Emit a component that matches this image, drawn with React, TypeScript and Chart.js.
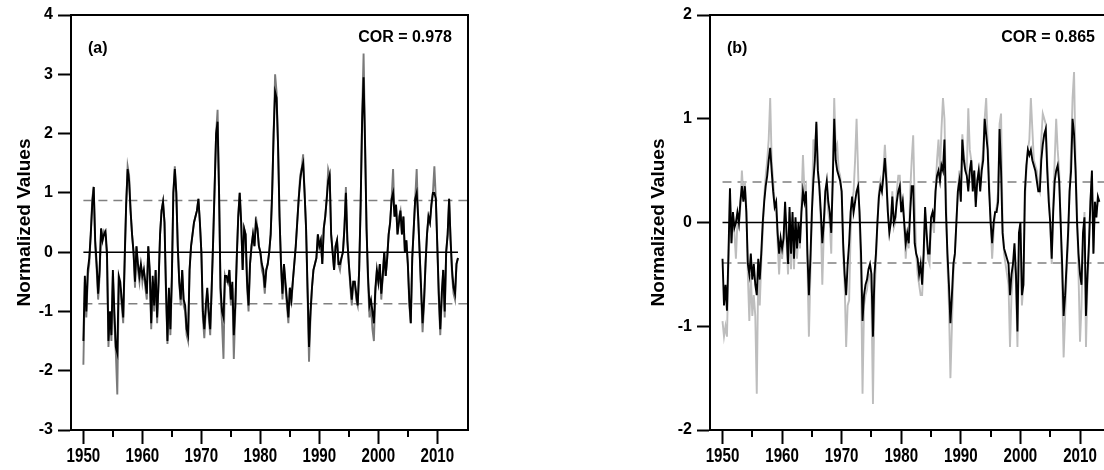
import React, { useEffect, useRef } from "react";
import { Chart, registerables } from "chart.js";

Chart.register(...registerables);

const FONT = '"Liberation Sans", Arial, Helvetica, sans-serif';

// ---- shared time axis ----
const startYear = 1950;
const stepYears = 0.25; // quarterly samples
const xMin = 1947.9;
const xMax = 2015.2;
const xTickYears = [1950, 1955, 1960, 1965, 1970, 1975, 1980, 1985, 1990, 1995, 2000, 2005, 2010];
const xLabelYears = [1950, 1960, 1970, 1980, 1990, 2000, 2010];

// ---- panel (a) ----
const aBlack = [
  -1.5, -0.4, -1.0, -0.3,
  -0.1, 0.3, 0.8, 1.1,
  0.2, -0.2, -0.7, -0.3,
  0.4, 0.2, 0.3, 0.35,
  0.0, -1.5, -1.0, -1.4,
  -0.3, -1.0, -1.6, -1.7,
  -0.4, -0.5, -0.8, -1.1,
  -0.1, 0.8, 1.4, 1.2,
  0.7, 0.3, 0.0, -0.5,
  0.1, -0.2, -0.4, -0.2,
  -0.4, -0.3, -0.5, -0.7,
  0.1, -0.3, -1.2, -0.4,
  -0.9, -0.3, -1.1, -0.5,
  0.3, 0.7, 0.85, 0.5,
  -0.6, -1.5, -0.6, -1.3,
  -0.4, 1.0, 1.4, 1.0,
  0.1, -0.5, -0.8, -0.3,
  -0.8, -0.9, -1.3, -1.4,
  -0.3, 0.1, 0.3, 0.5,
  0.6, 0.7, 0.9, 0.5,
  0.0, -1.0, -1.3, -0.9,
  -0.6, -1.0, -1.3, -0.6,
  0.2, 1.1, 2.0, 2.2,
  1.0, -0.6, -1.0, -1.1,
  -0.4, -0.4, -0.5, -0.3,
  -0.8, -0.5, -1.4, -0.9,
  -0.1, 0.6, 1.0, 0.5,
  -0.3, 0.4, 0.3, -0.5,
  -0.9, -0.2, 0.1, 0.3,
  0.1, 0.5, 0.4, 0.1,
  0.0, -0.2, -0.3, -0.6,
  -0.3, -0.2, 0.0, 0.3,
  1.0, 2.0, 2.7, 2.6,
  1.8, 0.6, -0.2, -0.7,
  -0.2, -0.5, -0.8, -1.1,
  -0.6, -0.8, -0.5, -0.2,
  0.1, 0.5, 0.9, 1.2,
  1.4, 1.5, 1.0, 0.4,
  -0.6, -1.6, -1.0, -0.6,
  -0.3, -0.2, -0.1, 0.3,
  0.1, 0.2, -0.2, 0.4,
  0.6, 0.9, 1.2, 1.3,
  0.3, 0.0, -0.3, 0.1,
  0.2, -0.2, -0.2, -0.1,
  0.0, 0.4, 1.0, 0.2,
  -0.2, -0.5, -0.8, -0.5,
  -0.5, -0.7, -0.9, -0.3,
  0.8, 2.2, 2.95, 1.8,
  0.4, -0.4, -0.9, -0.8,
  -1.0, -1.2, -0.6, -0.3,
  -0.5, -0.2, -0.7, -0.4,
  0.0, -0.4, -0.1, 0.3,
  0.5, 0.9, 1.0, 0.6,
  0.8, 0.3, 0.5, 0.7,
  0.3, 0.6, 0.0, 0.2,
  -0.2, -0.8, -1.2, -0.1,
  0.4, 0.9, 1.0, 0.6,
  0.0, -0.6, -1.2, -0.8,
  -0.2, 0.3, 0.6, 0.5,
  0.8, 1.0, 1.0, 0.9,
  0.1, -0.7, -1.3, -0.7,
  -0.3, -1.0, 0.0, 0.3,
  0.9, 0.2, -0.3, -0.6,
  -0.7, -0.2, -0.1,
];

const aGray = [
  -1.9, -0.5, -1.1, -0.4,
  -0.2, 0.3, 0.9, 1.1,
  0.1, -0.3, -0.8, -0.4,
  0.4, 0.2, 0.35, 0.3,
  -0.1, -1.6, -1.0, -1.5,
  -0.4, -1.2, -1.7, -2.4,
  -0.5, -0.6, -0.9, -1.2,
  -0.2, 0.8, 1.45, 1.3,
  0.7, 0.3, 0.0, -0.6,
  0.1, -0.3, -0.5, -0.2,
  -0.5, -0.3, -0.6, -0.8,
  0.1, -0.4, -1.3, -0.5,
  -1.0, -0.3, -1.2, -0.5,
  0.3, 0.7, 0.85, 0.5,
  -0.7, -1.55, -0.7, -1.4,
  -0.5, 1.0, 1.45, 1.0,
  0.1, -0.5, -0.9, -0.3,
  -0.9, -1.0, -1.4, -1.5,
  -0.3, 0.1, 0.3, 0.5,
  0.6, 0.7, 0.9, 0.5,
  0.0, -1.1, -1.45, -1.0,
  -0.7, -1.1, -1.4, -0.6,
  0.2, 1.1, 2.0, 2.4,
  1.0, -0.7, -1.2, -1.8,
  -0.4, -0.5, -0.5, -0.3,
  -0.9, -0.6, -1.8, -1.0,
  -0.1, 0.6, 1.0, 0.5,
  -0.3, 0.4, 0.3, -0.6,
  -1.0, -0.2, 0.1, 0.3,
  0.1, 0.6, 0.4, 0.1,
  0.0, -0.3, -0.4, -0.7,
  -0.3, -0.2, 0.0, 0.3,
  1.0, 2.0, 3.0, 2.7,
  1.8, 0.6, -0.2, -0.8,
  -0.2, -0.6, -0.9, -1.2,
  -0.6, -0.9, -0.5, -0.2,
  0.1, 0.5, 0.9, 1.3,
  1.4, 1.65, 1.0, 0.4,
  -0.7, -1.85, -1.1, -0.6,
  -0.3, -0.2, -0.1, 0.3,
  0.1, 0.2, -0.2, 0.4,
  0.6, 0.9, 1.4, 1.3,
  0.3, 0.0, -0.3, 0.1,
  0.2, -0.2, -0.3, -0.1,
  0.0, 0.4, 1.1, 0.2,
  -0.2, -0.6, -0.9, -0.5,
  -0.5, -0.8, -0.9, -0.3,
  0.8, 2.3, 3.35, 1.9,
  0.4, -0.5, -1.1, -0.9,
  -1.3, -1.5, -0.7, -0.3,
  -0.5, -0.2, -0.8, -0.4,
  0.0, -0.4, -0.1, 0.3,
  0.5, 0.9, 1.4, 0.6,
  0.8, 0.3, 0.6, 0.7,
  0.3, 0.6, 0.0, 0.2,
  -0.2, -0.9, -1.2, -0.1,
  0.4, 0.9, 1.4, 0.6,
  0.0, -0.7, -1.35, -0.9,
  -0.2, 0.3, 0.6, 0.5,
  0.8, 1.0, 1.45, 0.9,
  0.1, -0.8, -1.4, -0.8,
  -0.3, -1.1, 0.0, 0.3,
  0.9, 0.2, -0.4, -0.7,
  -0.8, -0.2, -0.1,
];

const aYTicks = [-3, -2, -1, 0, 1, 2, 3, 4];
const aThreshold = 0.87;
const aLabel = "(a)";
const aCor = "COR = 0.978";

// ---- panel (b) ----
const bBlack = [
  -0.35, -0.8, -0.6, -0.85,
  -0.3, 0.33, -0.2, 0.1,
  -0.05, 0.0, 0.1, 0.0,
  0.2, 0.35, 0.2, 0.35,
  0.1, -0.4, -0.5, -0.3,
  -0.55, -0.4, -0.6, -0.7,
  -0.35, -0.55, -0.3, 0.0,
  0.2, 0.35, 0.45, 0.6,
  0.72, 0.5, 0.3, 0.15,
  0.2, -0.1, -0.3, -0.15,
  -0.25, -0.15, 0.2, -0.1,
  -0.4, 0.15, -0.3, 0.1,
  -0.35, 0.05, -0.25, 0.0,
  -0.2, 0.1, 0.3, 0.2,
  0.3, -0.3, -0.7, -0.35,
  0.1, 0.4, 0.6, 0.97,
  0.5, 0.35, 0.1, -0.2,
  0.0, 0.3, 0.4, 0.2,
  0.1, -0.1, 0.4, 1.0,
  0.6, 0.5, 0.45, 0.4,
  0.3, -0.2, -0.5, -0.7,
  -0.4, -0.2, 0.1, 0.25,
  0.1, 0.2, 0.3, 0.35,
  0.1, -0.3, -0.95, -0.7,
  -0.6, -0.55, -0.45, -0.4,
  -0.5, -1.1, -0.5, -0.3,
  0.0, 0.25, 0.35, 0.3,
  0.45, 0.62, 0.4, 0.1,
  -0.1, 0.0, 0.25, 0.0,
  0.05, 0.2, 0.3, 0.35,
  0.1, 0.2, 0.0, -0.2,
  -0.1, -0.2, 0.1, 0.35,
  0.35, -0.2, -0.3, -0.35,
  -0.5, -0.4, -0.6, -0.3,
  0.15, -0.1, -0.3, -0.3,
  0.05, 0.1, 0.0, 0.3,
  0.45, 0.5, 0.4, 0.55,
  0.5, 0.8, 0.1, -0.3,
  -0.6, -0.97, -0.7, -0.4,
  -0.3, 0.0, 0.3, 0.4,
  0.2, 0.8, 0.6, 0.5,
  0.45, 0.3, 0.5, 0.6,
  0.3, 0.5, 0.15, 0.4,
  0.5, 0.3, 0.5, 0.6,
  1.0, 0.85, 0.7, 0.3,
  0.0, -0.2, 0.0, 0.1,
  0.1, 0.2, 0.9, 0.5,
  -0.1, -0.25, -0.3, -0.35,
  -0.4, -0.7, -0.5, -0.4,
  -0.2, -0.5, -1.05, -0.1,
  0.0, -0.7, -0.6, 0.3,
  0.55, 0.7, 0.65, 0.7,
  0.6, 0.55, 0.5, 0.4,
  0.3, 0.3, 0.6, 0.75,
  0.85, 0.9, 0.5, 0.2,
  0.0, -0.35, 0.1, 0.4,
  0.5, 0.55, 0.4, 0.0,
  -0.4, -0.9, -0.7, -0.4,
  -0.1, 0.3, 0.5, 1.0,
  0.85, 0.5, 0.0, -0.3,
  -0.5, -0.6, -0.1, 0.05,
  -0.9, -0.5, -0.2, 0.2,
  0.5, -0.3, 0.2, 0.05,
  0.25, 0.2,
];

const bGray = [
  -0.95, -1.1, -1.0, -1.1,
  -0.4, 0.25, -0.2, 0.05,
  -0.1, -0.35, 0.0, -0.05,
  0.15, 0.5, 0.25, 0.4,
  0.15, -0.5, -0.95, -0.5,
  -0.9, -0.7, -0.9, -1.65,
  -0.45, -0.8, -0.4, -0.1,
  0.25, 0.45, 0.6, 0.8,
  1.2, 0.6, 0.4, 0.2,
  0.15, -0.2, -0.5, -0.2,
  -0.35, -0.2, 0.1, -0.2,
  -0.5, 0.1, -0.45, 0.05,
  -0.45, 0.0, -0.35, -0.1,
  -0.25, 0.2, 0.65, 0.3,
  0.35, -0.4, -1.1, -0.5,
  0.1, 0.8, 0.7, 0.95,
  0.55, 0.3, 0.0, -0.6,
  -0.1, 0.2, 0.35, 0.1,
  0.0, -0.3, 0.5, 1.2,
  0.7, 0.75, 0.5, 0.45,
  0.25, -0.3, -0.6, -1.2,
  -0.8, -0.75, -0.1, 0.2,
  0.3, 0.6, 1.0, 0.5,
  0.0, -0.5, -1.65, -0.8,
  -0.7, -0.65, -0.5, -0.5,
  -0.7, -1.75, -0.7, -0.4,
  0.0, 0.3, 0.4, 0.3,
  0.5, 0.75, 0.5, 0.1,
  -0.05, 0.0, 0.3, -0.05,
  0.0, 0.3, 0.45, 0.45,
  0.1, 0.25, -0.05, -0.35,
  -0.1, -0.25, 0.3, 0.6,
  0.84, 0.2, -0.3, -0.5,
  -0.6, -0.7, -0.7, -0.4,
  0.1, -0.15, -0.35, -0.4,
  0.0, 0.0, -0.1, 0.3,
  0.6, 0.8, 0.5, 0.9,
  1.2, 1.0, 0.3, -0.4,
  -0.8, -1.5, -1.0, -0.5,
  -0.3, 0.0, 0.3, 0.5,
  0.3, 0.85, 0.65, 0.55,
  0.5, 1.1, 0.7, 0.6,
  0.4, 0.5, 0.2, 0.4,
  0.5, 0.35, 0.55, 0.7,
  1.0, 1.2, 0.8, 0.4,
  0.0, -0.35, -0.1, 0.1,
  0.15, 0.3, 0.95, 1.05,
  0.0, -0.3, -0.4, -0.5,
  -0.6, -1.2, -0.7, -0.5,
  -0.3, -0.6, -1.2, -0.2,
  -0.1, -0.8, -0.6, 0.2,
  0.5, 0.7, 0.8, 1.2,
  0.9, 0.6, 0.55, 0.5,
  0.35, 0.3, 0.8, 1.05,
  1.0, 0.95, 0.6, 0.3,
  0.0, -0.4, 0.2, 0.6,
  1.0, 0.7, 0.5, 0.0,
  -0.6, -1.3, -0.9, -0.5,
  -0.2, 0.3, 0.7, 1.2,
  1.45, 0.6, 0.1, -0.5,
  -1.15, -0.8, -0.2, 0.1,
  -1.2, -0.6, -0.3, 0.2,
  0.45, -0.3, 0.2, 0.1,
  0.2, 0.2,
];

const bYTicks = [-2, -1, 0, 1, 2];
const bThreshold = 0.39;
const bLabel = "(b)";
const bCor = "COR = 0.865";

const yTitle = "Normalized Values";

type PanelSpec = {
  black: number[];
  gray: number[];
  grayColor: string;
  yTicks: number[];
  threshold: number;
  label: string;
  cor: string;
  canvasWidth: number;
  yAxisWidth: number;
  rightPad: number;
  titleOffset: number;
};

function toPoints(vals: number[]) {
  return vals.map((v, i) => ({ x: startYear + i * stepYears, y: v }));
}

function makeChart(canvas: HTMLCanvasElement, p: PanelSpec) {
  const lastX = startYear + (p.black.length - 1) * stepYears;
  const decorations = {
    id: "decorations",
    afterDraw(chart: any) {
      const { ctx, chartArea } = chart;
      const xs = chart.scales.x;
      const { left, right, top, bottom } = chartArea;
      ctx.save();
      // top & right frame
      ctx.strokeStyle = "#000";
      ctx.lineWidth = 2;
      ctx.beginPath();
      ctx.moveTo(left, top);
      ctx.lineTo(right, top);
      ctx.lineTo(right, bottom);
      ctx.stroke();
      // minor x ticks
      ctx.beginPath();
      xTickYears.forEach((yr) => {
        if (yr % 10 !== 0) {
          const px = Math.round(xs.getPixelForValue(yr));
          ctx.moveTo(px, bottom);
          ctx.lineTo(px, bottom + 7);
        }
      });
      ctx.stroke();
      // x labels (tall, narrow)
      ctx.fillStyle = "#000";
      ctx.textAlign = "center";
      ctx.textBaseline = "middle";
      xLabelYears.forEach((yr) => {
        const px = xs.getPixelForValue(yr);
        ctx.save();
        ctx.translate(px, bottom + 26);
        ctx.scale(0.72, 1);
        ctx.font = `bold 21px ${FONT}`;
        ctx.fillText(String(yr), 0, 0);
        ctx.restore();
      });
      // y title
      ctx.save();
      ctx.translate(left - p.titleOffset, (top + bottom) / 2);
      ctx.rotate(-Math.PI / 2);
      ctx.font = `bold 19px ${FONT}`;
      ctx.textAlign = "center";
      ctx.textBaseline = "middle";
      ctx.fillText(yTitle, 0, 0);
      ctx.restore();
      // panel label
      ctx.font = `bold 16px ${FONT}`;
      ctx.textAlign = "left";
      ctx.textBaseline = "middle";
      ctx.fillText(p.label, left + 17, top + 34);
      // correlation
      ctx.textAlign = "right";
      ctx.fillText(p.cor, right - 16, top + 23);
      ctx.restore();
    },
  };

  return new Chart(canvas, {
    type: "line",
    data: {
      datasets: [
        {
          data: [{ x: startYear, y: 0 }, { x: lastX, y: 0 }],
          borderColor: "#000",
          borderWidth: 1.5,
          pointRadius: 0,
          order: 0,
        },
        {
          data: toPoints(p.black),
          borderColor: "#000",
          borderWidth: 1.9,
          pointRadius: 0,
          tension: 0,
          order: 1,
        },
        {
          data: toPoints(p.gray),
          borderColor: p.grayColor,
          borderWidth: 1.9,
          pointRadius: 0,
          tension: 0,
          order: 2,
        },
        {
          data: [{ x: startYear, y: p.threshold }, { x: xMax, y: p.threshold }],
          borderColor: "#808080",
          borderWidth: 1.5,
          borderDash: [9, 6],
          pointRadius: 0,
          order: 3,
        },
        {
          data: [{ x: startYear, y: -p.threshold }, { x: xMax, y: -p.threshold }],
          borderColor: "#808080",
          borderWidth: 1.5,
          borderDash: [9, 6],
          pointRadius: 0,
          order: 3,
        },
      ],
    },
    options: {
      animation: false,
      responsive: false,
      devicePixelRatio: 1,
      layout: { padding: { left: 0, right: p.rightPad, top: 15, bottom: 0 } },
      plugins: { legend: { display: false }, tooltip: { enabled: false }, title: { display: false } },
      scales: {
        x: {
          type: "linear",
          min: xMin,
          max: xMax,
          afterBuildTicks: (s: any) => {
            s.ticks = xTickYears.map((v) => ({ value: v }));
          },
          afterFit: (s: any) => {
            s.height = 40;
          },
          ticks: { display: false },
          grid: {
            drawOnChartArea: false,
            drawTicks: true,
            tickLength: 14,
            tickWidth: 2,
            tickColor: (c: any) =>
              c.tick && Math.abs(c.tick.value % 10) < 1e-6 ? "#000" : "rgba(0,0,0,0)",
          },
          border: { display: true, color: "#000", width: 2 },
        },
        y: {
          type: "linear",
          min: p.yTicks[0],
          max: p.yTicks[p.yTicks.length - 1],
          afterBuildTicks: (s: any) => {
            s.ticks = p.yTicks.map((v) => ({ value: v }));
          },
          afterFit: (s: any) => {
            s.width = p.yAxisWidth;
          },
          ticks: {
            color: "#000",
            font: { family: FONT, size: 16, weight: "bold" },
            padding: 5,
            callback: (v: any) => String(v),
          },
          grid: {
            drawOnChartArea: false,
            drawTicks: true,
            tickLength: 13,
            tickWidth: 2,
            tickColor: "#000",
          },
          border: { display: true, color: "#000", width: 2 },
        },
      },
    },
    plugins: [decorations],
  } as any);
}

const panelA: PanelSpec = {
  black: aBlack,
  gray: aGray,
  grayColor: "#7a7a7a",
  yTicks: aYTicks,
  threshold: aThreshold,
  label: aLabel,
  cor: aCor,
  canvasWidth: 480,
  yAxisWidth: 71,
  rightPad: 12,
  titleOffset: 46,
};

const panelB: PanelSpec = {
  black: bBlack,
  gray: bGray,
  grayColor: "#bdbdbd",
  yTicks: bYTicks,
  threshold: bThreshold,
  label: bLabel,
  cor: bCor,
  canvasWidth: 510,
  yAxisWidth: 90,
  rightPad: 19,
  titleOffset: 51,
};

export default function App() {
  const refA = useRef<HTMLCanvasElement>(null);
  const refB = useRef<HTMLCanvasElement>(null);

  useEffect(() => {
    const ca = refA.current ? makeChart(refA.current, panelA) : null;
    const cb = refB.current ? makeChart(refB.current, panelB) : null;
    return () => {
      if (ca) ca.destroy();
      if (cb) cb.destroy();
    };
  }, []);

  return (
    <div
      style={{
        position: "fixed",
        left: 0,
        top: 0,
        width: 1104,
        height: 470,
        overflow: "hidden",
        background: "#fff",
      }}
    >
      <canvas
        ref={refA}
        width={panelA.canvasWidth}
        height={470}
        style={{ position: "absolute", left: 0, top: 0 }}
      />
      <canvas
        ref={refB}
        width={panelB.canvasWidth}
        height={470}
        style={{ position: "absolute", left: 620, top: 0 }}
      />
    </div>
  );
}
